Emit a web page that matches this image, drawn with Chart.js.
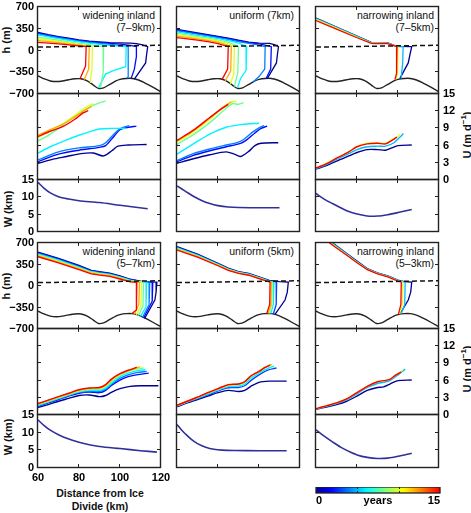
<!DOCTYPE html>
<html lang="en">
<head>
<meta charset="UTF-8">
<title>Terminus retreat vs. fjord width</title>
<script src="https://cdn.jsdelivr.net/npm/chart.js@4.4.1/dist/chart.umd.min.js"></script>
<style>
  body { margin: 0; background: #fff; }
  #fig { position: relative; width: 471px; height: 513px; overflow: hidden;
         font-family: "Liberation Sans", Arial, Helvetica, sans-serif; color: #111; }
  #fig canvas { position: absolute; }
  .txt { position: absolute; white-space: nowrap; }
  .note { font-size: 10.5px; line-height: 12px; text-align: right; }
  .lab { font-size: 11px; font-weight: bold; }
  .rot { transform: translate(-50%, -50%) rotate(-90deg); }
</style>
</head>
<body>
<div id="fig">
  <div class="txt note" style="right:316px; top:9px">widening inland<br>(7–9km)</div>
  <div class="txt note" style="right:177px; top:9px">uniform (7km)</div>
  <div class="txt note" style="right:37px; top:9px">narrowing inland<br>(7–5km)</div>
  <div class="txt note" style="right:316px; top:245px">widening inland<br>(5–7km)</div>
  <div class="txt note" style="right:177px; top:245px">uniform (5km)</div>
  <div class="txt note" style="right:37px; top:245px">narrowing inland<br>(5–3km)</div>

  <div class="txt lab rot" style="left:6px; top:40px">h (m)</div>
  <div class="txt lab rot" style="left:6px; top:286px">h (m)</div>
  <div class="txt lab rot" style="left:8px; top:209px">W (km)</div>
  <div class="txt lab rot" style="left:8px; top:437px">W (km)</div>
  <div class="txt lab rot" style="left:466px; top:135px">U (m d<sup style="font-size:8px">−1</sup>)</div>
  <div class="txt lab rot" style="left:466px; top:369px">U (m d<sup style="font-size:8px">−1</sup>)</div>
  <div class="txt lab" style="left:100px; top:487px; transform:translateX(-50%); text-align:center; font-size:10.5px; line-height:12.5px">Distance from Ice<br>Divide (km)</div>
</div>
<script>
  // ---- data ----
  const years8 = [0, 2, 4, 6, 8, 10, 12, 15];
  const years6 = [0, 3, 6, 9, 12, 15];
  const years4 = [0, 5, 10, 15];

  const bed = [[60,-410],[63,-455],[66,-490],[69,-500],[72,-490],[75,-470],[78,-455],[81,-455],[84,-490],[87,-556],
               [89.5,-610],[92,-600],[95,-545],[98,-490],[100,-465],[103,-450],[106,-450],[109,-475],[112,-520],[116,-590],[120,-665]];
  const seaLevel = [[60, 55], [120, 85]];

  // surface profile + calving front, one line per year
  const hWideTop = [
    [[60,290],[65,255],[70,225],[75,198],[80,172],[85,152],[90,140],[95,128],[100,122],[105,118],[108,112],[111,90],[113.5,62],[113,-60],[112.5,-200],[107,-460]],
    [[60,280],[65,245],[70,215],[75,188],[80,162],[85,142],[90,128],[95,115],[100,102],[105,82],[108,62],[108,-100],[107,-300],[105.5,-445]],
    [[60,268],[65,235],[70,205],[75,178],[80,152],[85,132],[90,116],[95,100],[100,84],[104,64],[104,-420],[103.5,-445]],
    [[60,250],[65,220],[70,192],[75,165],[80,140],[85,118],[90,100],[95,84],[100,70],[103,62],[102.8,-260],[97,-320],[93,-380],[89.5,-600]],
    [[60,215],[65,190],[70,165],[75,140],[80,115],[85,93],[89,75],[92,62],[91.8,-350],[90.5,-605]],
    [[60,185],[65,165],[70,145],[75,123],[80,100],[84,78],[86.5,63],[86.3,-300],[85.5,-520]],
    [[60,160],[65,143],[70,126],[75,108],[80,88],[85,63],[84.7,-300],[82.5,-470]],
    [[60,132],[65,118],[70,105],[75,90],[80,75],[83.5,62],[83.2,-250],[80.5,-455]]
  ];
  const hUniTop = [
    [[60,340],[65,310],[70,283],[75,256],[80,228],[85,200],[90,165],[95,135],[100,118],[105,115],[107.5,95],[109.5,62],[109,-60],[108.5,-200],[104,-455]],
    [[60,330],[65,300],[70,273],[75,246],[80,218],[85,190],[90,156],[95,126],[100,106],[104,80],[106,62],[105.7,-300],[103.5,-450]],
    [[60,318],[65,290],[70,262],[75,235],[80,207],[85,178],[90,145],[95,115],[100,88],[103,64],[102.8,-300],[100,-420],[97,-510]],
    [[60,300],[65,272],[70,245],[75,218],[80,190],[85,160],[90,118],[94,64],[93.7,-320],[91,-450],[89.5,-600]],
    [[60,275],[65,250],[70,225],[75,198],[80,170],[85,130],[90,64],[89.7,-350],[88,-580]],
    [[60,255],[65,232],[70,208],[75,182],[80,155],[85,110],[88,64],[87.7,-380],[86,-540]],
    [[60,232],[65,210],[70,188],[75,163],[80,135],[86.5,64],[86.2,-330],[83.5,-490]],
    [[60,208],[65,188],[70,166],[75,142],[80,112],[85,62],[84.7,-300],[82,-465]]
  ];
  const hNarTop = [
    [[60,520],[70,378],[80,232],[87,130],[90,126],[95,124],[99.4,66],[106.7,62],[106,-40],[105,-200],[101,-445]],
    [[60,515],[70,373],[80,227],[87,127],[90,123],[95,120],[99.4,64],[102.5,62],[102.3,-200],[101.5,-448]],
    [[60,500],[70,360],[80,216],[87,120],[90,117],[95,114],[99,66],[100,62],[99.8,-380],[99,-460]],
    [[60,482],[70,345],[80,205],[87,115],[90,112],[95,110],[99,65],[99.5,62],[99.3,-370],[98.5,-470]]
  ];
  const hWideBot = [
    [[60,550],[70,450],[80,335],[86,255],[90,232],[95,210],[100,165],[105,110],[110,80],[114,68],[118,62],[117.6,-100],[117,-230],[112,-530]],
    [[60,540],[70,440],[80,325],[86,247],[90,225],[95,202],[100,158],[105,104],[110,74],[116,62],[115.7,-250],[111.5,-520]],
    [[60,530],[70,430],[80,315],[86,240],[90,218],[95,195],[100,150],[105,98],[110,70],[114.5,62],[114.2,-300],[111,-510]],
    [[60,520],[70,420],[80,305],[86,232],[90,210],[95,188],[100,143],[105,92],[110,68],[113,62],[112.7,-340],[110,-495]],
    [[60,510],[70,410],[80,296],[86,224],[90,203],[95,181],[100,136],[105,86],[111.5,62],[111.2,-330],[109,-482]],
    [[60,500],[70,400],[80,288],[86,216],[90,196],[95,174],[100,129],[105,80],[110.5,62],[110.2,-320],[108,-470]],
    [[60,490],[70,390],[80,279],[86,208],[90,188],[95,167],[100,122],[105,74],[109.5,62],[109.2,-300],[107,-460]],
    [[60,477],[70,378],[80,268],[86,198],[90,178],[95,158],[100,114],[105,68],[108.2,60],[108,-390],[105.7,-452]]
  ];
  const hUniBot = [
    [[60,640],[70,520],[80,370],[85,290],[90,235],[95,205],[100,150],[105,90],[110,72],[114.3,62],[113.8,-100],[112.7,-228],[107.8,-460]],
    [[60,630],[70,510],[80,362],[85,283],[90,228],[95,198],[100,143],[105,85],[108.6,62],[108.4,-300],[107,-455]],
    [[60,620],[70,500],[80,354],[85,276],[90,222],[95,192],[100,137],[105,80],[107.3,62],[107,-300],[105.8,-450]],
    [[60,610],[70,490],[80,346],[85,270],[90,216],[95,186],[100,131],[104,85],[106.5,62],[106.3,-300],[105,-448]],
    [[60,598],[70,480],[80,338],[85,262],[90,210],[95,180],[100,125],[104,80],[106,62],[105.8,-300],[104.4,-447]],
    [[60,586],[70,470],[80,330],[85,255],[90,205],[95,175],[100,120],[105.4,62],[105.2,-300],[103.8,-446]]
  ];
  const hNarBot = [
    [[66,755],[70,655],[75,530],[80,405],[85,283],[90,215],[95,165],[100,95],[103,72],[106.7,62],[106.2,-100],[105,-228],[101,-455]],
    [[66,745],[70,645],[75,520],[80,396],[85,276],[90,209],[95,159],[100,90],[103.5,62],[103.3,-300],[101.5,-452]],
    [[65,750],[70,632],[75,510],[80,388],[85,270],[90,203],[95,154],[100,85],[102.3,62],[102.1,-300],[100.8,-458]],
    [[65,740],[70,620],[75,500],[80,380],[85,265],[90,198],[95,150],[100,80],[101.6,62],[101.4,-300],[100.2,-462]]
  ];

  // velocity profiles (m/d), one line per year
  const uWideTop = [
    [[60,2.9],[67,3.6],[74,4.1],[81,4.6],[87,4.7],[92,4.2],[96,5.1],[99,5.9],[104,6.1],[113,6.2]],
    [[60,3.2],[70,4.5],[80,5.2],[90,5.7],[93,6.0],[97,7.6],[100,8.8],[104,9.2],[108,9.4]],
    [[60,3.5],[70,4.9],[80,5.6],[90,6.0],[93,6.5],[97,8.0],[100,8.9],[104.5,9.5]],
    [[60,4.7],[66,5.8],[74,7.0],[80,7.8],[85,8.4],[90,8.9],[96,9.0],[103,9.0]],
    [[60,6.8],[66,8.0],[72,9.5],[78,11.2],[84,12.5],[88,13.2],[93,13.8]],
    [[60,7.4],[66,8.6],[72,9.8],[78,11.3],[83,12.6],[87,13.3]],
    [[60,7.8],[66,8.8],[72,9.7],[78,11.0],[83,12.2],[86,12.8]],
    [[60,7.6],[66,8.5],[72,9.3],[78,10.6],[82,11.7],[84.5,12.1]]
  ];
  const uUniTop = [
    [[60,2.9],[68,3.7],[76,4.4],[84,4.9],[88,4.5],[91,4.1],[95,5.0],[98,6.0],[101,6.4],[109.4,6.5]],
    [[60,3.2],[68,4.3],[76,5.1],[84,5.8],[91,6.4],[94,7.0],[98,8.2],[101,9.0],[104,9.4]],
    [[60,3.4],[68,4.6],[76,5.4],[84,6.1],[90,6.6],[93,7.2],[97,8.4],[100,9.1],[102.5,9.5]],
    [[60,4.5],[68,6.3],[76,8.0],[84,9.2],[92,9.7],[100,9.9]],
    [[60,6.2],[68,7.9],[76,10.0],[83,12.2],[87,13.3],[90,13.2],[92.5,13.5]],
    [[60,6.6],[68,8.4],[76,10.6],[82,12.5],[86,13.6],[89,13.7]],
    [[60,6.8],[68,8.6],[76,10.8],[82,12.6],[86.5,13.6]],
    [[60,6.9],[68,8.7],[76,10.9],[82,12.5],[85,13.2]]
  ];
  const uNarTop = [
    [[60,1.9],[65,2.5],[70,3.3],[76,4.2],[80,4.8],[85,5.3],[90,5.3],[94,5.2],[97,5.6],[100,6.0],[106.7,6.1]],
    [[60,2.0],[65,2.7],[70,3.6],[76,4.6],[80,5.3],[85,5.8],[90,5.9],[94,5.9],[98,6.5],[101,7.5],[102.6,8.1]],
    [[60,2.1],[65,2.9],[70,3.8],[76,4.9],[80,5.8],[85,6.4],[90,6.5],[94,6.4],[97,7.0],[100,7.6],[101,8.0]],
    [[60,2.1],[65,2.8],[70,3.8],[76,4.9],[80,5.8],[85,6.3],[90,6.4],[94,6.3],[97,6.9],[99.5,7.5]]
  ];
  const uWideBot = [
    [[60,1.3],[65,1.8],[70,2.4],[75,2.9],[80,3.4],[85,3.5],[90,3.2],[93,3.4],[96,4.0],[100,4.6],[105,5.0],[110,5.1],[118.7,5.1]],
    [[60,1.5],[65,2.1],[70,2.7],[75,3.3],[80,3.8],[85,4.0],[90,3.9],[93,4.3],[96,5.2],[100,6.1],[104,6.7],[108,7.0],[114,7.3]],
    [[60,1.6],[65,2.2],[70,2.8],[75,3.4],[80,3.95],[85,4.15],[90,4.1],[93,4.5],[96,5.4],[100,6.4],[104,7.0],[108,7.4],[113,7.6]],
    [[60,1.7],[65,2.3],[70,2.9],[75,3.5],[80,4.05],[85,4.3],[90,4.3],[93,4.7],[96,5.6],[100,6.7],[104,7.3],[108,7.7],[112.5,7.9]],
    [[60,1.8],[65,2.4],[70,3.0],[75,3.6],[80,4.15],[85,4.45],[90,4.5],[93,4.9],[96,5.9],[100,6.9],[104,7.6],[108,8.0],[111.5,8.2]],
    [[60,1.9],[65,2.5],[70,3.1],[75,3.7],[80,4.3],[85,4.6],[90,4.65],[93,5.1],[96,6.1],[100,7.1],[104,7.7],[110.5,8.4]],
    [[60,1.95],[65,2.55],[70,3.15],[75,3.75],[80,4.35],[85,4.65],[90,4.75],[93,5.2],[96,6.2],[100,7.15],[104,7.75],[109.5,8.4]],
    [[60,2.0],[65,2.6],[70,3.2],[75,3.8],[80,4.4],[85,4.7],[90,4.8],[93,5.3],[96,6.3],[100,7.2],[104,7.8],[108.2,8.3]]
  ];
  const uUniBot = [
    [[60,1.45],[65,2.1],[70,2.7],[75,3.3],[80,3.9],[85,4.3],[90,4.1],[93,4.3],[96,5.0],[100,5.7],[105,5.9],[113.5,5.9]],
    [[60,1.55],[65,2.2],[70,2.85],[75,3.5],[80,4.2],[85,4.75],[90,4.8],[93,5.1],[96,6.0],[100,7.0],[104,7.8],[108.5,8.2]],
    [[60,1.6],[65,2.3],[70,2.95],[75,3.65],[80,4.35],[85,4.95],[90,5.05],[93,5.4],[96,6.4],[100,7.3],[104,8.1],[107.3,8.5]],
    [[60,1.65],[65,2.35],[70,3.05],[75,3.8],[80,4.5],[85,5.15],[90,5.3],[93,5.7],[96,6.7],[100,7.5],[103,8.3],[106.5,8.85]],
    [[60,1.7],[65,2.4],[70,3.1],[75,3.85],[80,4.55],[85,5.25],[90,5.4],[93,5.8],[96,6.8],[100,7.6],[103,8.3],[106,8.8]],
    [[60,1.7],[65,2.4],[70,3.1],[75,3.9],[80,4.6],[85,5.3],[90,5.4],[93,5.8],[96,6.8],[100,7.6],[103,8.3],[105.4,8.7]]
  ];
  const uNarBot = [
    [[60,1.0],[65,1.4],[70,1.8],[75,2.4],[80,3.3],[85,4.3],[90,4.8],[93,4.9],[96,5.4],[100,6.0],[106.7,6.1]],
    [[60,1.05],[65,1.5],[70,2.0],[75,2.65],[80,3.7],[85,4.8],[90,5.5],[93,5.7],[96,6.0],[100,7.0],[103.5,8.0]],
    [[60,1.1],[65,1.6],[70,2.1],[75,2.8],[80,3.9],[85,5.0],[90,5.8],[93,6.0],[96,6.2],[99,7.0],[102.3,7.8]],
    [[60,1.1],[65,1.6],[70,2.1],[75,2.8],[80,3.9],[85,5.0],[90,5.8],[93,6.0],[96,6.2],[99,7.0],[101.6,7.5]]
  ];

  // fjord width (km)
  const wWideTop = [[60,14.3],[63,12.6],[66,11.3],[70,10.2],[75,9.5],[80,9.0],[90,8.5],[100,7.7],[113.5,6.7]];
  const wUniTop  = [[60,13.3],[64,11.8],[68,10.3],[72,9.1],[76,8.2],[80,7.6],[85,7.2],[90,7.05],[100,7.0],[110,7.0]];
  const wNarTop  = [[60,11.1],[64,9.5],[68,8.2],[72,7.0],[76,5.9],[80,5.2],[85,4.6],[90,4.6],[95,5.0],[100,5.6],[106.7,6.5]];
  const wWideBot = [[60,13.6],[63,12.0],[66,10.7],[70,9.4],[74,8.4],[80,7.3],[85,6.6],[90,6.1],[100,5.5],[110,4.9],[118,4.5]];
  const wUniBot  = [[60,12.3],[62,10.9],[64,9.7],[67,8.1],[70,6.9],[74,5.9],[78,5.3],[82,5.05],[88,4.95],[100,4.9],[113.5,4.9]];
  const wNarBot  = [[60,10.8],[64,9.0],[68,7.4],[72,5.9],[76,4.7],[80,3.7],[85,3.0],[90,2.7],[95,2.8],[100,3.3],[106.7,4.2]];

  // ---- drawing ----
  const fig = document.getElementById('fig');
  const FONT = '"Liberation Sans", Arial, Helvetica, sans-serif';
  const tickFont = { family: FONT, size: 11, weight: 'bold' };
  const PAD = { l: 44, r: 34, t: 12, b: 22 };
  const colX = [38, 177, 316];
  const panelW = 123;

  // matlab-ish jet colormap over 0..15 years
  function jet(t) {
    const v = 0.02 + 0.86 * t / 15;
    const c = k => Math.round(255 * Math.min(1, Math.max(0, 1.5 - Math.abs(4 * v - k))));
    return `rgb(${c(3)},${c(2)},${c(1)})`;
  }
  function minus(v) { return v < 0 ? '\u2212' + Math.abs(v) : String(v); }

  // box around the axes with inward tick marks; every edge snapped the same way
  // so that panels sharing an edge draw one line, not two
  const snap = v => Math.round(v) - 0.5;
  const boxPlugin = {
    id: 'box',
    afterDraw(chart) {
      const { ctx, chartArea: a, scales } = chart;
      const len = 3.5;
      const L = snap(a.left), R = snap(a.right), T = snap(a.top), B = snap(a.bottom);
      ctx.save();
      ctx.strokeStyle = '#222';
      ctx.lineWidth = 1;
      ctx.beginPath();
      scales.x.ticks.forEach(t => {
        const p = snap(scales.x.getPixelForValue(t.value));
        ctx.moveTo(p, B); ctx.lineTo(p, B - len);
        ctx.moveTo(p, T); ctx.lineTo(p, T + len);
      });
      scales.y.ticks.forEach(t => {
        const p = snap(scales.y.getPixelForValue(t.value));
        ctx.moveTo(L, p); ctx.lineTo(L + len, p);
        ctx.moveTo(R, p); ctx.lineTo(R - len, p);
      });
      ctx.stroke();
      ctx.lineWidth = 1.4;
      ctx.strokeRect(L, T, R - L, B - T);
      ctx.restore();
    }
  };

  function makePanel(col, top, height, o) {
    const left = colX[col];
    const cv = document.createElement('canvas');
    cv.width = panelW + PAD.l + PAD.r;
    cv.height = height + PAD.t + PAD.b;
    fig.appendChild(cv);
    const yTicks = show => ({ stepSize: o.step, display: show, autoSkip: false, font: tickFont, color: '#000', padding: 4, callback: minus });
    const chart = new Chart(cv, {
      type: 'scatter',
      data: { datasets: o.datasets },
      options: {
        responsive: false, animation: false, devicePixelRatio: 1,
        layout: { padding: { top: PAD.t } },
        plugins: { legend: { display: false }, tooltip: { enabled: false } },
        scales: {
          x: { type: 'linear', position: 'bottom', min: 60, max: 120,
               ticks: { stepSize: 20, display: !!o.xLabels, autoSkip: false, font: tickFont, color: '#000', padding: 3, maxRotation: 0 },
               grid: { display: false, drawTicks: false }, border: { display: false },
               afterFit: s => { s.height = PAD.b; } },
          y: { type: 'linear', position: 'left', min: o.min, max: o.max, ticks: yTicks(!!o.left),
               grid: { display: false, drawTicks: false }, border: { display: false },
               afterFit: s => { s.width = PAD.l; } },
          yr: { type: 'linear', position: 'right', min: o.min, max: o.max, ticks: yTicks(!!o.right),
                grid: { display: false, drawTicks: false }, border: { display: false },
                afterFit: s => { s.width = PAD.r; } }
        }
      },
      plugins: [boxPlugin]
    });
    // make the plot area exactly the panel size, then place the canvas on it
    let a = chart.chartArea;
    const dw = Math.round(panelW - (a.right - a.left));
    const dh = Math.round(height - (a.bottom - a.top));
    if (dw || dh) chart.resize(cv.width + dw, cv.height + dh);
    a = chart.chartArea;
    cv.style.left = (left - Math.round(a.left)) + 'px';
    cv.style.top = (top - Math.round(a.top)) + 'px';
    return chart;
  }

  function yearLines(lines, years, width, tension) {
    return lines.map((pts, i) => ({
      data: pts, showLine: true, borderColor: jet(years[i]), borderWidth: width,
      pointRadius: 0, tension: tension, order: 20 - years[i]
    }));
  }
  function hSets(lines, years) {
    return [
      { data: bed, showLine: true, borderColor: '#222', borderWidth: 1.4, pointRadius: 0, tension: 0.3, order: 30 },
      { data: seaLevel, showLine: true, borderColor: '#111', borderWidth: 1.5, borderDash: [5, 3], pointRadius: 0, order: -1 }
    ].concat(yearLines(lines, years, 1.3, 0));
  }
  function wSet(pts) {
    return [{ data: pts, showLine: true, borderColor: '#30309a', borderWidth: 1.6, pointRadius: 0, tension: 0.3 }];
  }

  const hOpt = { min: -700, max: 700, step: 350 };
  const uOpt = { min: 0, max: 15, step: 3 };
  const wOpt = { min: 0, max: 15, step: 5 };

  // top block
  makePanel(0, 7, 87, { ...hOpt, left: true, datasets: hSets(hWideTop, years8) });
  makePanel(1, 7, 87, { ...hOpt, datasets: hSets(hUniTop, years8) });
  makePanel(2, 7, 87, { ...hOpt, datasets: hSets(hNarTop, years4) });
  makePanel(0, 94, 86, { ...uOpt, datasets: yearLines(uWideTop, years8, 1.4, 0.3) });
  makePanel(1, 94, 86, { ...uOpt, datasets: yearLines(uUniTop, years8, 1.4, 0.3) });
  makePanel(2, 94, 86, { ...uOpt, right: true, datasets: yearLines(uNarTop, years4, 1.4, 0.3) });
  makePanel(0, 180, 52, { ...wOpt, left: true, datasets: wSet(wWideTop) });
  makePanel(1, 180, 52, { ...wOpt, datasets: wSet(wUniTop) });
  makePanel(2, 180, 52, { ...wOpt, datasets: wSet(wNarTop) });

  // bottom block
  makePanel(0, 243, 86, { ...hOpt, left: true, datasets: hSets(hWideBot, years8) });
  makePanel(1, 243, 86, { ...hOpt, datasets: hSets(hUniBot, years6) });
  makePanel(2, 243, 86, { ...hOpt, datasets: hSets(hNarBot, years4) });
  makePanel(0, 329, 86, { ...uOpt, datasets: yearLines(uWideBot, years8, 1.4, 0.3) });
  makePanel(1, 329, 86, { ...uOpt, datasets: yearLines(uUniBot, years6, 1.4, 0.3) });
  makePanel(2, 329, 86, { ...uOpt, right: true, datasets: yearLines(uNarBot, years4, 1.4, 0.3) });
  makePanel(0, 415, 53, { ...wOpt, left: true, xLabels: true, datasets: wSet(wWideBot) });
  makePanel(1, 415, 53, { ...wOpt, datasets: wSet(wUniBot) });
  makePanel(2, 415, 53, { ...wOpt, datasets: wSet(wNarBot) });

  // colour bar
  (function () {
    const cv = document.createElement('canvas');
    cv.width = 124 + 20; cv.height = 6 + 20;
    cv.style.left = (316 - 10) + 'px'; cv.style.top = 487 + 'px';
    fig.appendChild(cv);
    new Chart(cv, {
      type: 'scatter',
      data: { datasets: [] },
      options: {
        responsive: false, animation: false, devicePixelRatio: 1,
        layout: { padding: { left: 10, right: 10 } },
        plugins: { legend: { display: false }, tooltip: { enabled: false } },
        scales: {
          x: { type: 'linear', min: 0, max: 15,
               afterBuildTicks: s => { s.ticks = [{ value: 0 }, { value: 7.5 }, { value: 15 }]; },
               ticks: { font: tickFont, color: '#000', padding: 1, align: 'inner', maxRotation: 0, autoSkip: false,
                        callback: v => v === 0 ? '0' : (v === 15 ? '15' : 'years') },
               grid: { display: false, drawTicks: false }, border: { display: false },
               afterFit: s => { s.height = 20; } },
          y: { display: false, min: 0, max: 1 }
        }
      },
      plugins: [{
        id: 'bar',
        beforeDatasetsDraw(chart) {
          const { ctx, chartArea: a, scales } = chart;
          const g = ctx.createLinearGradient(a.left, 0, a.right, 0);
          for (let i = 0; i <= 30; i++) g.addColorStop(i / 30, jet(15 * i / 30));
          ctx.save();
          ctx.fillStyle = g;
          ctx.fillRect(a.left, a.top, a.right - a.left, a.bottom - a.top);
          ctx.strokeStyle = '#222';
          ctx.lineWidth = 1;
          ctx.beginPath();
          [5, 10].forEach(v => {
            const p = Math.round(scales.x.getPixelForValue(v)) + 0.5;
            ctx.moveTo(p, a.top); ctx.lineTo(p, a.top + 2);
            ctx.moveTo(p, a.bottom); ctx.lineTo(p, a.bottom - 2);
          });
          ctx.stroke();
          ctx.lineWidth = 1.3;
          ctx.strokeRect(a.left, a.top, a.right - a.left, a.bottom - a.top);
          ctx.restore();
        }
      }]
    });
  })();
</script>
</body>
</html>
